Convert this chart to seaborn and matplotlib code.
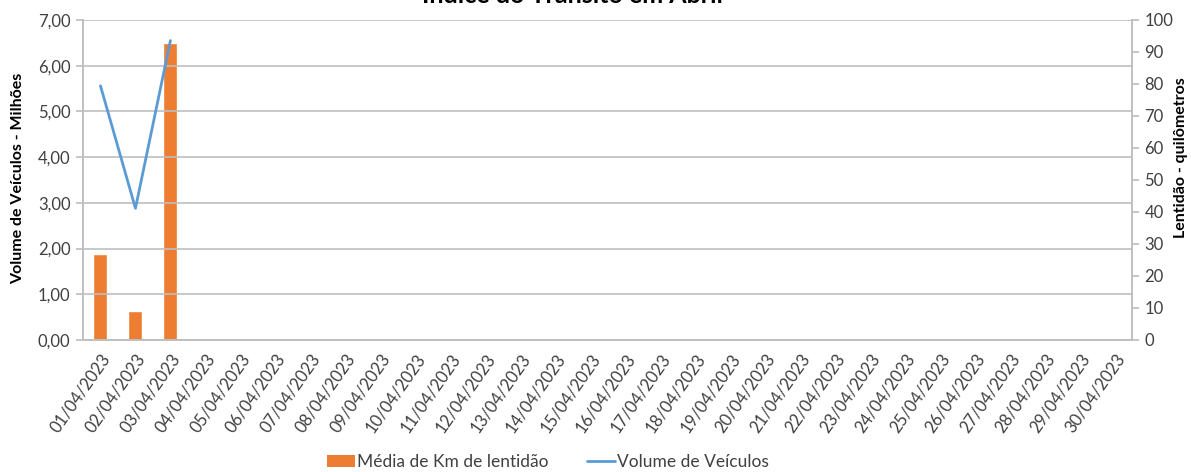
import numpy as np
import pandas as pd
import matplotlib
matplotlib.use("Agg")
import matplotlib.pyplot as plt
import seaborn as sns
from matplotlib.lines import Line2D
from matplotlib.patches import Patch

# ---- data ----
dates = [f"{d:02d}/04/2023" for d in range(1, 31)]
lentidao_km = [26.9, 9.1, 92.9]          # Média de Km de lentidão (right axis)
volume_milhoes = [5.56, 2.88, 6.55]       # Volume de Veículos (left axis, millions)
left_ticks = [0, 1, 2, 3, 4, 5, 6, 7]
right_ticks = [0, 10, 20, 30, 40, 50, 60, 70, 80, 90, 100]
title = "Índice do Trânsito em Abril"

sns.set_theme(style="white")
plt.rcParams['font.family'] = ['Lato', 'DejaVu Sans']

n = len(dates)
bars = pd.DataFrame({"data": dates,
                     "km": lentidao_km + [np.nan] * (n - len(lentidao_km))})
line = pd.DataFrame({"pos": np.arange(len(volume_milhoes)), "vol": volume_milhoes})

fig = plt.figure(figsize=(11.91, 4.72), dpi=100)
ax = fig.add_axes([83 / 1191, 1 - 340 / 472, (1132 - 83) / 1191, 320 / 472])
ax2 = ax.twinx()

orange = "#ED7D31"
blue = "#5B9BD5"
text_c = "#404040"
grid_c = "#BFBFBF"

sns.barplot(data=bars, x="data", y="km", order=dates, ax=ax2, color=orange,
            width=0.4, saturation=1, errorbar=None)
sns.lineplot(data=line, x="pos", y="vol", ax=ax, color=blue, linewidth=2)

ax.set_zorder(ax2.get_zorder() + 1)
ax.patch.set_visible(False)

ax.set_xlim(-0.5, n - 0.5)
ax.set_ylim(0, 7)
ax2.set_ylim(0, 100)
ax.set_yticks(left_ticks)
ax.set_yticklabels([f"{v:.2f}".replace(".", ",") for v in left_ticks])
ax2.set_yticks(right_ticks)
ax2.set_yticklabels([str(v) for v in right_ticks])

ax.yaxis.grid(True, color=grid_c, linewidth=1.2)
ax.xaxis.grid(False)
ax2.grid(False)

# x ticks: labels at centers, tick marks at boundaries
ax.set_xticks(np.arange(n))
ax.set_xticklabels(dates, rotation=55, ha="right", rotation_mode="anchor",
                   fontsize=12, color=text_c)
ax.set_xticks(np.arange(n + 1) - 0.5, minor=True)
ax.tick_params(axis="x", which="major", length=0, pad=8)
ax.tick_params(axis="x", which="minor", length=5, color=grid_c, width=1)
ax2.tick_params(axis="x", which="both", length=0, labelbottom=False)
ax2.set_xlabel("")
ax.set_xlabel("")

ax.tick_params(axis="y", length=5, color=grid_c, labelsize=12, labelcolor=text_c, left=True, pad=4)
ax2.tick_params(axis="y", length=5, color=grid_c, labelsize=12, labelcolor=text_c, right=True, pad=4)

for a in (ax, ax2):
    a.spines["top"].set_visible(False)
    for s in ("left", "right", "bottom"):
        a.spines[s].set_color(grid_c)
        a.spines[s].set_linewidth(1.2)

ax.set_ylabel("Volume de Veículos - Milhões", fontsize=11.5, fontweight="bold",
              color="black", va="center")
ax.yaxis.set_label_coords((18 - 83) / 1049, (340 - 178) / 320)
ax2.set_ylabel("Lentidão - quilômetros", fontsize=11.5, fontweight="bold",
               color="black", rotation=90, va="center")
ax2.yaxis.set_label_coords((1181 - 83) / 1049, (340 - 158) / 320)

fig.text(572 / 1191, 1 - 3 / 472, title, ha="center", va="baseline", fontsize=18,
         fontweight="bold", color="black")

handles = [Patch(facecolor=orange, edgecolor="none"),
           Line2D([0], [0], color=blue, linewidth=2)]
fig.legend(handles, ["Média de Km de lentidão", "Volume de Veículos"],
           loc="center", bbox_to_anchor=(548 / 1191, 1 - 462 / 472), ncol=2,
           frameon=False, fontsize=12.5, handlelength=1.6, handletextpad=0.15,
           columnspacing=2.2, labelcolor=text_c)

fig.savefig("out.png", dpi=100)
